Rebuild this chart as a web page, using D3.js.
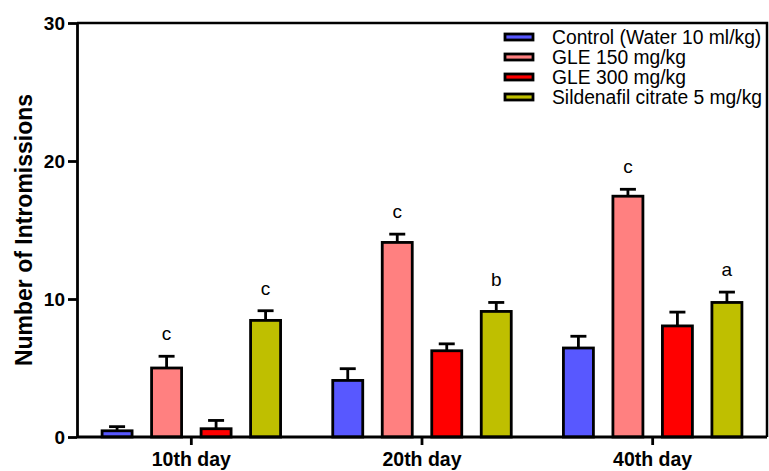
<!DOCTYPE html>
<html>
<head>
<meta charset="utf-8">
<script src="https://cdn.jsdelivr.net/npm/d3@7"></script>
<style>
  body { margin: 0; background: #fff; }
  svg { font-family: Arial, "Liberation Sans", sans-serif; }
</style>
</head>
<body>
<div id="chart"></div>
<script>
// data
var days = ["10th day", "20th day", "40th day"];
var groups = ["Control (Water 10 ml/kg)", "GLE 150 mg/kg", "GLE 300 mg/kg", "Sildenafil citrate 5 mg/kg"];
var colors = ["#5858ff", "#ff8080", "#ff0000", "#bfbf00"];
var means = [
  [0.45, 5.0, 0.6, 8.45],   // 10th day
  [4.1, 14.1, 6.25, 9.1],   // 20th day
  [6.45, 17.45, 8.05, 9.75] // 40th day
];
var errs = [
  [0.3, 0.85, 0.6, 0.7],
  [0.85, 0.6, 0.5, 0.65],
  [0.85, 0.5, 1.0, 0.75]
];
var letters = [
  ["", "c", "", "c"],
  ["", "c", "", "b"],
  ["", "c", "", "a"]
];
var yTicks = [0, 10, 20, 30];

var width = 769, height = 471;
var mLeft = 77, mRight = 767, mTop = 23, mBottom = 437;

var svg = d3.select("#chart").append("svg")
  .attr("width", width)
  .attr("height", height);

var x = d3.scaleBand().domain(days).range([76, 768]).paddingInner(0).paddingOuter(0);
var groupW = 178.5;
var xIn = d3.scaleBand().domain(d3.range(groups.length)).range([0, groupW]).paddingInner(0.394).paddingOuter(0);
var y = d3.scaleLinear().domain([0, 30]).range([mBottom, mTop]);

// frame top/right
svg.append("path")
  .attr("d", `M${mLeft},${mTop}H${mRight}V${mBottom}`)
  .attr("fill", "none").attr("stroke", "#000").attr("stroke-width", 2.5);

var gDay = svg.selectAll("g.day").data(days).enter().append("g")
  .attr("class", "day")
  .attr("transform", d => `translate(${x(d) + x.bandwidth() / 2 - groupW / 2},0)`);

gDay.each(function (day, di) {
  var g = d3.select(this);
  groups.forEach(function (grp, gi) {
    var v = means[di][gi], e = errs[di][gi];
    var bx = xIn(gi), bw = xIn.bandwidth(), cx = bx + bw / 2;
    // error bar (up only)
    g.append("line").attr("x1", cx).attr("x2", cx)
      .attr("y1", y(v)).attr("y2", y(v + e))
      .attr("stroke", "#000").attr("stroke-width", 2.8);
    g.append("line").attr("x1", cx - 8).attr("x2", cx + 8)
      .attr("y1", y(v + e)).attr("y2", y(v + e))
      .attr("stroke", "#000").attr("stroke-width", 2.8);
    g.append("rect")
      .attr("x", bx).attr("y", y(v))
      .attr("width", bw).attr("height", y(0) - y(v))
      .attr("fill", colors[gi]).attr("stroke", "#000").attr("stroke-width", 2.8);
    if (letters[di][gi]) {
      g.append("text").attr("x", cx).attr("y", y(v + e) - 16)
        .attr("text-anchor", "middle").attr("font-size", 19)
        .text(letters[di][gi]);
    }
  });
});

// y axis
var yAxis = svg.append("g").attr("transform", `translate(${mLeft},0)`)
  .call(d3.axisLeft(y).tickValues(yTicks).tickSize(9).tickSizeOuter(0).tickPadding(3));
yAxis.select(".domain").attr("stroke-width", 2.8);
yAxis.selectAll(".tick line").attr("stroke-width", 2.8);
yAxis.selectAll(".tick text").attr("font-size", 19).attr("font-weight", "bold")
  .attr("font-family", "Arial, 'Liberation Sans', sans-serif").attr("fill", "#000");

// x axis
var xAxis = svg.append("g").attr("transform", `translate(0,${mBottom})`)
  .call(d3.axisBottom(x).tickSize(8).tickSizeOuter(0).tickPadding(7));
xAxis.select(".domain").attr("d", `M${mLeft},0H${mRight}`).attr("stroke-width", 2.8);
xAxis.selectAll(".tick line").attr("stroke-width", 2.8);
xAxis.selectAll(".tick text").attr("font-size", 19.5).attr("font-weight", "bold")
  .attr("font-family", "Arial, 'Liberation Sans', sans-serif").attr("fill", "#000");

// y title
svg.append("text")
  .attr("transform", `translate(32,${(mTop + mBottom) / 2}) rotate(-90)`)
  .attr("text-anchor", "middle").attr("font-size", 23).attr("font-weight", "bold")
  .text("Number of Intromissions");

// legend
var leg = svg.append("g").attr("transform", "translate(505,37)");
groups.forEach(function (grp, i) {
  var row = leg.append("g").attr("transform", `translate(0,${i * 20})`);
  row.append("rect").attr("x", 0).attr("y", -3).attr("width", 28).attr("height", 6)
    .attr("fill", colors[i]).attr("stroke", "#000").attr("stroke-width", 2.8);
  row.append("text").attr("x", 47).attr("y", 7).attr("font-size", 19.3).text(grp);
});
</script>
</body>
</html>
